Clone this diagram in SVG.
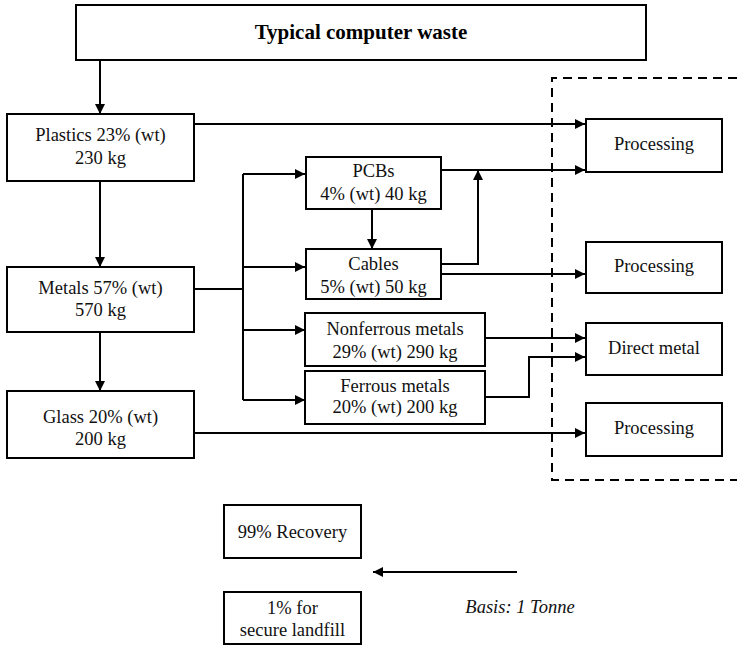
<svg xmlns="http://www.w3.org/2000/svg" width="737" height="646" viewBox="0 0 737 646">
  <style>
    .box { fill: #fff; stroke: #000; stroke-width: 2; }
    .t { font-family: "Liberation Serif", "Times New Roman", serif; font-size: 18.5px; fill: #111; text-anchor: middle; }
    .title { font-family: "Liberation Serif", "Times New Roman", serif; font-size: 21px; font-weight: bold; fill: #000; text-anchor: middle; }
    .it { font-style: italic; }
    .ln { fill: none; stroke: #000; stroke-width: 2; }
    .arr { marker-end: url(#ah); }
    .dash { fill: none; stroke: #000; stroke-width: 2; stroke-dasharray: 9 6; }
  </style>
  <defs>
    <marker id="ah" viewBox="0 0 10 10" refX="10" refY="5" markerWidth="10" markerHeight="10" markerUnits="userSpaceOnUse" orient="auto">
      <path d="M0,0 L10,5 L0,10 z" fill="#000"/>
    </marker>
  </defs>

  <!-- recovery boundary -->
  <path class="dash" d="M737,78 L552,78 L552,480 L737,480"/>

  <g id="connectors">
    <path class="ln arr" d="M100,60 L100,114"/>
    <path class="ln arr" d="M100,181 L100,267"/>
    <path class="ln arr" d="M100,332 L100,391"/>
    <path class="ln arr" d="M194,124 L585,124"/>
    <path class="ln" d="M194,289 L243,289"/>
    <path class="ln" d="M243,174 L243,400"/>
    <path class="ln arr" d="M243,174 L305,174"/>
    <path class="ln arr" d="M243,267 L305,267"/>
    <path class="ln arr" d="M243,330 L305,330"/>
    <path class="ln arr" d="M243,400 L305,400"/>
    <path class="ln arr" d="M372,209 L372,249"/>
    <path class="ln arr" d="M441,170 L585,170"/>
    <path class="ln arr" d="M441,264 L478,264 L478,170"/>
    <path class="ln arr" d="M441,274 L585,274"/>
    <path class="ln arr" d="M485,338 L585,338"/>
    <path class="ln arr" d="M485,397 L529,397 L529,357 L585,357"/>
    <path class="ln arr" d="M194,433 L585,433"/>
    <path class="ln arr" d="M517,572 L373,572"/>
  </g>

  <g id="title">
    <rect class="box" x="76" y="5" width="570" height="55"/>
    <text class="title" x="361" y="39">Typical computer waste</text>
  </g>

  <g id="plastics">
    <rect class="box" x="7" y="114" width="187" height="67"/>
    <text class="t" x="100.5" y="141">Plastics 23% (wt)</text>
    <text class="t" x="100.5" y="164">230 kg</text>
  </g>

  <g id="metals">
    <rect class="box" x="7" y="267" width="187" height="65"/>
    <text class="t" x="100.5" y="294">Metals 57% (wt)</text>
    <text class="t" x="100.5" y="316">570 kg</text>
  </g>

  <g id="glass">
    <rect class="box" x="7" y="391" width="187" height="67"/>
    <text class="t" x="100.5" y="423">Glass 20% (wt)</text>
    <text class="t" x="100.5" y="445">200 kg</text>
  </g>

  <g id="pcbs">
    <rect class="box" x="306" y="157" width="135" height="52"/>
    <text class="t" x="373.5" y="177">PCBs</text>
    <text class="t" x="373.5" y="200">4% (wt) 40 kg</text>
  </g>

  <g id="cables">
    <rect class="box" x="306" y="249" width="135" height="50"/>
    <text class="t" x="373.5" y="270">Cables</text>
    <text class="t" x="373.5" y="293">5% (wt) 50 kg</text>
  </g>

  <g id="nonferrous">
    <rect class="box" x="305" y="313" width="180" height="53"/>
    <text class="t" x="395" y="335">Nonferrous metals</text>
    <text class="t" x="395" y="358">29% (wt) 290 kg</text>
  </g>

  <g id="ferrous">
    <rect class="box" x="305" y="371" width="180" height="53"/>
    <text class="t" x="395" y="392">Ferrous metals</text>
    <text class="t" x="395" y="413">20% (wt) 200 kg</text>
  </g>

  <g id="processing1">
    <rect class="box" x="586" y="119" width="136" height="53"/>
    <text class="t" x="654" y="150">Processing</text>
  </g>

  <g id="processing2">
    <rect class="box" x="586" y="242" width="136" height="51"/>
    <text class="t" x="654" y="272">Processing</text>
  </g>

  <g id="direct-metal">
    <rect class="box" x="586" y="323" width="136" height="52"/>
    <text class="t" x="654" y="354">Direct metal</text>
  </g>

  <g id="processing3">
    <rect class="box" x="586" y="403" width="136" height="53"/>
    <text class="t" x="654" y="434">Processing</text>
  </g>

  <g id="recovery">
    <rect class="box" x="224" y="505" width="137" height="53"/>
    <text class="t" x="292.5" y="538">99% Recovery</text>
  </g>

  <g id="landfill">
    <rect class="box" x="224" y="592" width="137" height="52"/>
    <text class="t" x="292.5" y="614">1% for</text>
    <text class="t" x="292.5" y="636">secure landfill</text>
  </g>

  <g id="basis">
    <text class="t it" x="520" y="613">Basis: 1 Tonne</text>
  </g>
</svg>
